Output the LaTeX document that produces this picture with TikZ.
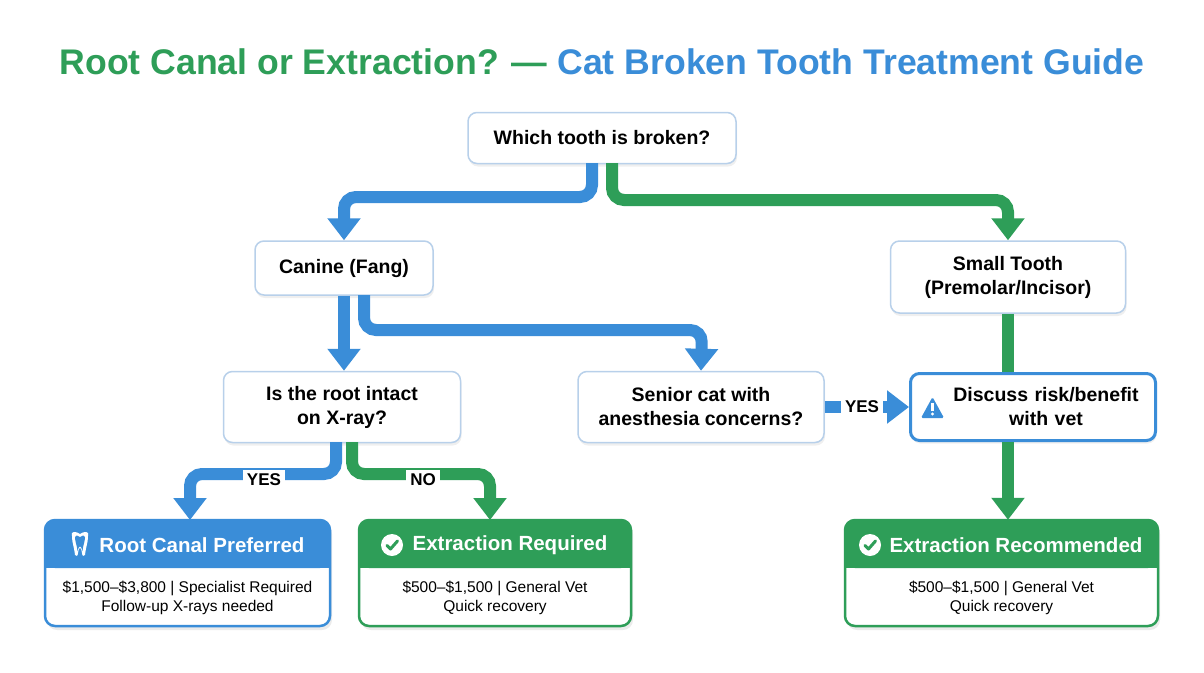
\documentclass[tikz,border=0pt]{standalone}
\usepackage{fontspec}
\setmainfont{Liberation Sans}
\usetikzlibrary{arrows.meta,shadows,calc}
\definecolor{cb}{HTML}{3A8DD8}
\definecolor{cg}{HTML}{2E9E58}
\definecolor{bd}{HTML}{B8D0EA}
\begin{document}
\begin{tikzpicture}[x=1pt,y=-1pt,
 q/.style={draw=bd,line width=1.5pt,fill=white,rounded corners=9pt,align=center,font=\fontsize{19.5}{24}\selectfont\bfseries,drop shadow={opacity=0.12,shadow xshift=1pt,shadow yshift=-3pt}},
 ar/.style={line width=12pt,rounded corners=12pt,-{Triangle[width=32pt,length=22pt]}},
 ln/.style={line width=12pt,rounded corners=12pt},
 lab/.style={fill=white,font=\fontsize{17}{18}\selectfont\bfseries,inner sep=4pt},
 small/.style={font=\fontsize{15.5}{18.5}\selectfont,align=center}]
\useasboundingbox (0,0) rectangle (1204,672);
\fill[white] (0,0) rectangle (1204,672);
\node[font=\fontsize{35.6}{38}\selectfont\bfseries] (title) at (602,62) {\textcolor{cg}{Root Canal or Extraction? —} \textcolor{cb}{Cat Broken Tooth Treatment Guide}};
% question nodes
\node[q,minimum width=268pt,minimum height=51pt] (which) at (602,138) {Which tooth is broken?};
\node[q,minimum width=178pt,minimum height=54pt] (canine) at (344,268) {Canine (Fang)};
\node[q,minimum width=235pt,minimum height=72pt] (small) at (1008,277) {Small Tooth\\(Premolar/Incisor)};
\node[q,minimum width=237pt,minimum height=71pt] (root) at (342,407) {Is the root intact\\on X-ray?};
\node[q,minimum width=246pt,minimum height=71pt] (senior) at (701,407) {Senior cat with\\anesthesia concerns?};
\node[q,draw=cb,line width=3pt,minimum width=245pt,minimum height=67pt,text width=235pt,inner sep=0pt] (disc) at (1033,407) {\hspace*{26pt}Discuss risk/benefit\\\hspace*{26pt}with vet};
% warning icon
\fill[cb,rounded corners=1.5pt] (921,418) -- (944,418) -- (932.5,397) -- cycle;
\fill[white] (931,403) rectangle (934,411);
\fill[white] (932.5,414) circle (1.7pt);
% outcome boxes
\newcommand{\outbox}[5]{%
 \fill[black,opacity=0.08,rounded corners=10pt] (#1+2,#2+4) rectangle (#3+2,#4+4);
 \fill[white,rounded corners=10pt] (#1,#2) rectangle (#3,#4);
 \fill[#5,rounded corners=10pt] (#1,#2) rectangle (#3,#2+48);
 \fill[#5] (#1,#2+30) rectangle (#3,#2+48);
 \draw[#5,line width=2.5pt,rounded corners=10pt] (#1,#2) rectangle (#3,#4);
}
\outbox{45}{520}{330}{626}{cb}
\outbox{359}{520}{631}{626}{cg}
\outbox{845}{520}{1158}{626}{cg}
\node[inner sep=0pt,minimum width=285pt,minimum height=106pt] (rc) at (187.5,573) {};
\node[inner sep=0pt,minimum width=272pt,minimum height=106pt] (er) at (495,573) {};
\node[inner sep=0pt,minimum width=313pt,minimum height=106pt] (erec) at (1001.5,573) {};
\node[text=white,font=\fontsize{20.5}{22}\selectfont\bfseries] (rct) at (202,545) {Root Canal Preferred};
\node[text=white,font=\fontsize{20.5}{22}\selectfont\bfseries] (ert) at (510,545) {Extraction Required};
\node[text=white,font=\fontsize{20.5}{22}\selectfont\bfseries] (erect) at (1016,545) {Extraction Recommended};
\node[small] (rcs) at (187.5,598) {\$1,500–\$3,800 | Specialist Required\\Follow-up X-rays needed};
\node[small] (ers) at (495,598) {\$500–\$1,500 | General Vet\\Quick recovery};
\node[small] (erecs) at (1001.5,598) {\$500–\$1,500 | General Vet\\Quick recovery};
% tooth icon
\fill[white] (72,536) .. controls (70,531) and (76,531) .. (80,534) .. controls (84,531) and (90,531) .. (88,536)
 .. controls (88,543) and (86,546) .. (85,555) .. controls (84,557) and (82,556) .. (82,553) .. controls (81,546) and (79,546) .. (78,553)
 .. controls (78,556) and (76,557) .. (75,555) .. controls (74,546) and (72,543) .. (72,536) -- cycle;
\fill[cb] (75,537) .. controls (75,535) and (78,535) .. (80,537) .. controls (82,535) and (85,535) .. (85,537)
 .. controls (85,542) and (83,545) .. (82.5,551) .. controls (81,545) and (79,545) .. (77.5,551) .. controls (77,545) and (75,542) .. (75,537) -- cycle;
% check icons
\foreach \cx in {392,870}{
 \fill[white] (\cx,545) circle (11pt);
 \draw[cg,line width=3pt,line cap=round,line join=round] (\cx-5,545.5) -- (\cx-1.5,549) -- (\cx+5.5,541);
}
% connectors
\coordinate (w1) at (592,163); \coordinate (w2) at (612,163);
\draw[ar,cb] (w1) -- (592,197) -- (344,197) -- (canine.north);
\draw[ar,cg] (w2) -- (612,200) -- (1008,200) -- (small.north);
\draw[ar,cb] (canine.south) -- (root.north -| canine.south);
\draw[ar,cb] (364,295) -- (364,330) -- (702,330) -- (senior.north);
\draw[ln,cg] (small.south) -- (small.south |- disc.north);
\draw[ar,cg] (small.south |- disc.south) -- (small.south |- erec.north);
\draw[ar,cb] (senior.east) -- (disc.west);
\node[lab] (y2) at (862,407) {YES};
\draw[ar,cb] (336,442) -- (336,474) -- (190,474) -- (190,520);
\draw[ar,cg] (352,442) -- (352,474) -- (490,474) -- (490,520);
\node[lab] (y1) at (264,480) {YES};
\node[lab] (n1) at (423,480) {NO};
\end{tikzpicture}
\end{document}
